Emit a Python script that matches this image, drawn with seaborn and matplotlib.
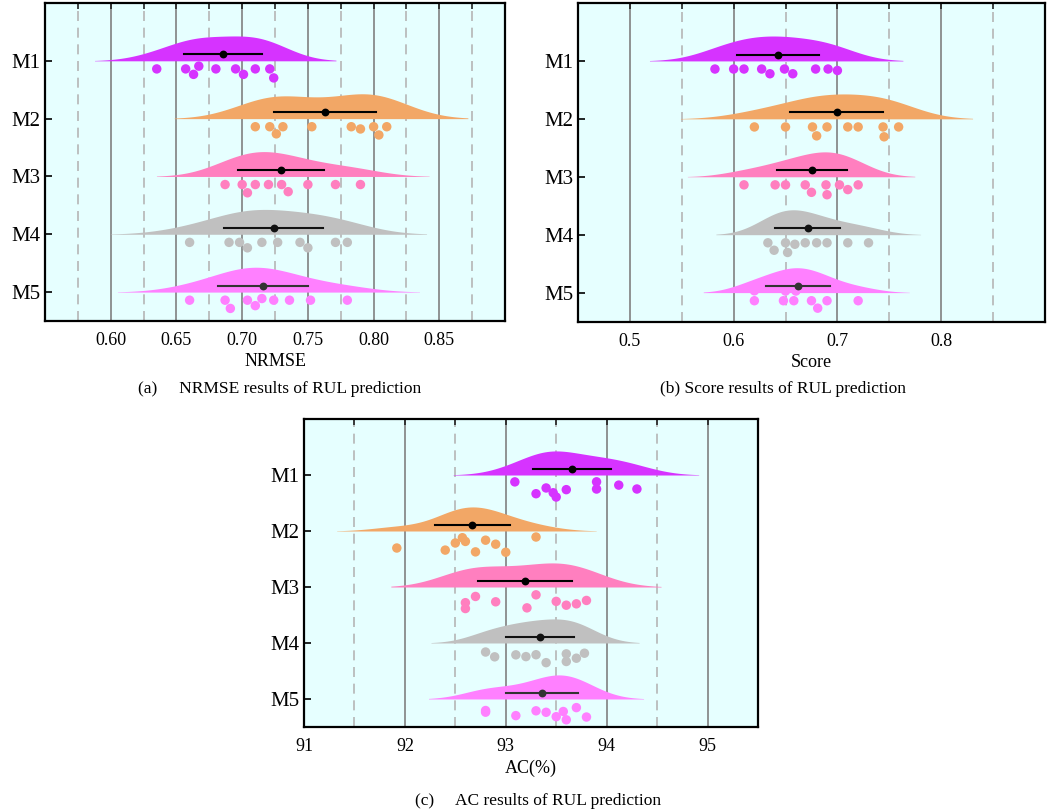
import numpy as np
import pandas as pd
import seaborn as sns
import matplotlib.pyplot as plt
from matplotlib import transforms
from matplotlib.ticker import MultipleLocator, FixedLocator, FormatStrFormatter

plt.rcParams["font.family"] = ["Liberation Serif", "DejaVu Serif"]

# Modelos y colores
models = ["M1", "M2", "M3", "M4", "M5"]
colors = ["#D633FF", "#F2A766", "#FF7FBF", "#C0C0C0", "#FF80FF"]
bar_colors = ["#000000", "#000000", "#000000", "#111111", "#333333"]

# Datos: NRMSE (10 repeticiones por modelo)
nrmse_values = [
    [0.635, 0.657, 0.663, 0.667, 0.680, 0.695, 0.701, 0.710, 0.721, 0.724],
    [0.710, 0.721, 0.726, 0.731, 0.753, 0.783, 0.790, 0.800, 0.804, 0.810],
    [0.687, 0.700, 0.704, 0.710, 0.720, 0.730, 0.735, 0.750, 0.771, 0.790],
    [0.660, 0.690, 0.698, 0.704, 0.715, 0.727, 0.744, 0.750, 0.771, 0.780],
    [0.660, 0.687, 0.691, 0.704, 0.710, 0.715, 0.724, 0.736, 0.752, 0.780],
]

# Datos: Score
score_values = [
    [0.582, 0.600, 0.610, 0.627, 0.635, 0.649, 0.657, 0.679, 0.691, 0.700],
    [0.620, 0.650, 0.676, 0.680, 0.690, 0.710, 0.720, 0.744, 0.745, 0.759],
    [0.610, 0.640, 0.650, 0.669, 0.675, 0.689, 0.690, 0.702, 0.710, 0.720],
    [0.633, 0.639, 0.650, 0.652, 0.659, 0.669, 0.680, 0.690, 0.710, 0.730],
    [0.620, 0.620, 0.648, 0.650, 0.658, 0.660, 0.675, 0.681, 0.690, 0.720],
]

# Datos: AC (%)
ac_values = [
    [93.09, 93.30, 93.40, 93.47, 93.50, 93.60, 93.90, 93.90, 94.12, 94.30],
    [91.92, 92.40, 92.50, 92.57, 92.60, 92.70, 92.80, 92.90, 93.00, 93.30],
    [92.60, 92.60, 92.70, 92.90, 93.21, 93.30, 93.50, 93.60, 93.70, 93.80],
    [92.80, 92.89, 93.10, 93.20, 93.30, 93.40, 93.60, 93.60, 93.70, 93.78],
    [92.80, 92.80, 93.10, 93.30, 93.40, 93.50, 93.57, 93.60, 93.70, 93.80],
]

VIOLIN_W = 0.43


def long_frame(values):
    return pd.DataFrame({
        "model": np.repeat(models, [len(v) for v in values]),
        "value": np.concatenate(values),
    })


def draw_panel(ax, values, xlim, xticks, minor, fmt, xlabel, swarm=True):
    df = long_frame(values)
    ax.set_facecolor("#E6FFFF")

    # medio violin (densidad), con el borde plano en la linea del modelo
    for m, c in zip(models, colors):
        sns.violinplot(data=df[df["model"] == m], x="value", y="model", order=models,
                       color=c, saturation=1, split=True, inner=None, cut=2.3,
                       bw_adjust=1.1, density_norm="width", width=VIOLIN_W,
                       linewidth=0, ax=ax)
    lift = transforms.Affine2D().translate(0, -VIOLIN_W / 2) + ax.transData
    for coll in ax.collections:
        coll.set_transform(lift)
        coll.set_zorder(2)

    # puntos individuales, debajo de la linea base
    n0 = len(ax.collections)
    if swarm:
        sns.swarmplot(data=df, x="value", y="model", order=models, hue="model",
                      hue_order=models, palette=colors, size=6.8, linewidth=0,
                      legend=False, ax=ax)
        shift = 0.14
    else:
        np.random.seed(7)
        sns.stripplot(data=df, x="value", y="model", order=models, hue="model",
                      hue_order=models, palette=colors, size=6.8, linewidth=0,
                      jitter=0.15, legend=False, ax=ax)
        shift = 0.25
    down = transforms.Affine2D().translate(0, shift) + ax.transData
    for coll in ax.collections[n0:]:
        coll.set_offset_transform(down)
        coll.set_zorder(3)

    # media +- desviacion estandar
    n1 = len(ax.lines)
    sns.pointplot(data=df, x="value", y="model", order=models, hue="model",
                  hue_order=models, palette=bar_colors, errorbar="sd",
                  linestyle="none", markersize=3.6, err_kws={"linewidth": 1.5},
                  legend=False, ax=ax)
    up = transforms.Affine2D().translate(0, -0.11) + ax.transData
    for ln in ax.lines[n1:]:
        ln.set_transform(up)
        ln.set_zorder(4)

    ax.set_xlim(*xlim)
    ax.set_ylim(4.5, -1.0)
    ax.xaxis.set_major_locator(FixedLocator(xticks))
    ax.xaxis.set_minor_locator(MultipleLocator(minor, offset=minor / 2))
    ax.xaxis.set_major_formatter(FormatStrFormatter(fmt))
    ax.set_axisbelow(True)
    ax.grid(True, axis="x", which="major", color="#808080", linewidth=1.2)
    ax.grid(True, axis="x", which="minor", color="#B5B5B5", linewidth=1.2,
            linestyle=(0, (6, 4)))
    ax.grid(False, axis="y")
    ax.tick_params(axis="x", which="both", bottom=False, top=True, labelbottom=True,
                   direction="in", length=4, width=1.2, color="#222222")
    ax.tick_params(axis="x", which="major", labelsize=13, pad=8)
    ax.tick_params(axis="y", direction="in", length=5, width=1.2, labelsize=15, pad=3)
    for s in ax.spines.values():
        s.set_linewidth(1.6)
        s.set_color("black")
    ax.set_xlabel(xlabel, fontsize=13, labelpad=3)
    ax.set_ylabel("")


fig = plt.figure(figsize=(10.57, 8.10), dpi=100)

ax_a = fig.add_axes([0.0426, 0.6037, 0.4352, 0.3926])
draw_panel(ax_a, nrmse_values, (0.55, 0.90), [0.60, 0.65, 0.70, 0.75, 0.80, 0.85],
           0.05, "%.2f", "NRMSE")

ax_b = fig.add_axes([0.5468, 0.6030, 0.4418, 0.3933])
draw_panel(ax_b, score_values, (0.45, 0.90), [0.5, 0.6, 0.7, 0.8],
           0.1, "%.1f", "Score")

ax_c = fig.add_axes([0.2876, 0.1025, 0.4295, 0.3802])
draw_panel(ax_c, ac_values, (91, 95.5), [91, 92, 93, 94, 95],
           1, "%d", "AC(%)", swarm=False)

fig.text(0.265, 0.520, "(a)     NRMSE results of RUL prediction", ha="center",
         va="center", fontsize=12.5)
fig.text(0.741, 0.520, "(b) Score results of RUL prediction", ha="center",
         va="center", fontsize=12.5)
fig.text(0.509, 0.011, "(c)     AC results of RUL prediction", ha="center",
         va="center", fontsize=12.5)

fig.savefig("out.png", dpi=100)
